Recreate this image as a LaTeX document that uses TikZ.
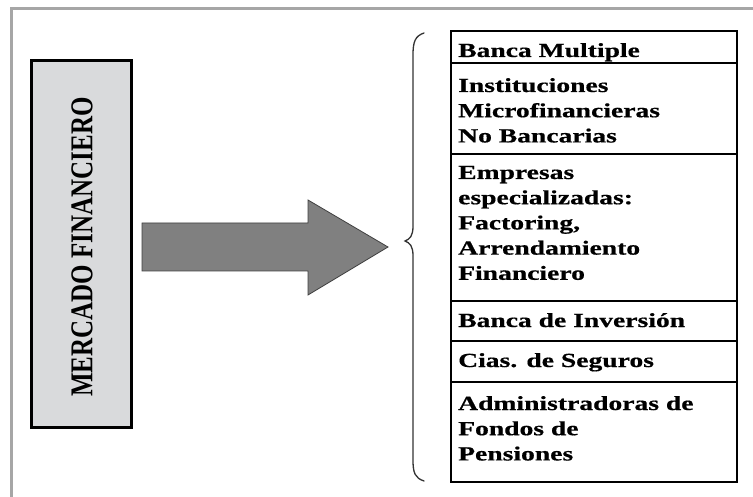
\documentclass[tikz,border=0pt]{standalone}
\usepackage{fontspec}
\setmainfont{Liberation Serif}
\newfontfamily\rowfont[FakeStretch=1.38,FakeBold=0.6]{Liberation Serif Bold}
\newcommand{\rowlines}[1]{\begin{tabular}[t]{@{}l@{}}#1\end{tabular}}
\begin{document}
\begin{tikzpicture}[x=1pt,y=-1pt,
  rowtext/.style={inner sep=0pt, anchor=base west,
    font=\rowfont\fontsize{20}{25.2}\selectfont},
  rowline/.style={line width=2.6pt, draw=black},
  arrowshape/.style={fill={rgb,255:red,128;green,128;blue,128}, draw=black!75, line width=0.8pt},
  bracestyle/.style={draw=black!80, line width=1.3pt, line cap=round}
]
\useasboundingbox (0,0) rectangle (753,497);
% frame
\draw[draw=black!35, line width=3pt] (11,497) -- (11,9) -- (753,9);
% left box
\node[draw=black, line width=3pt, fill={rgb,255:red,217;green,218;blue,220},
  minimum width=100pt, minimum height=366pt, inner sep=0pt] (mf) at (81,244) {};
\node[rotate=90, inner sep=0pt] (mftext) at (82,247)
  {\scalebox{1}[1.27]{\bfseries\fontsize{25}{25}\selectfont MERCADO FINANCIERO}};
% big arrow
\draw[arrowshape] (142,223) -- (308,223) -- (308,200) -- (388,247) -- (308,295) -- (308,271) -- (142,271) -- cycle;
% brace
\draw[bracestyle] (424,33) .. controls (415,36) and (413,42) .. (413,55)
  -- (413,226) .. controls (413,236) and (410,239) .. (405,241)
  .. controls (410,243) and (413,246) .. (413,256)
  -- (413,460) .. controls (413,473) and (415,478) .. (424,481);
% table rows
\draw[rowline] (451,31) rectangle (737,482);
\draw[rowline] (451,63) -- (737,63);
\draw[rowline] (451,154) -- (737,154);
\draw[rowline] (451,301) -- (737,301);
\draw[rowline] (451,341) -- (737,341);
\draw[rowline] (451,382) -- (737,382);
% texts
\node[rowtext] (t1) at (458,57) {Banca Multiple};
\node[rowtext] (t2) at (458,92) {\rowlines{Instituciones\\Microfinancieras\\No Bancarias}};
\node[rowtext] (t3) at (458,179) {\rowlines{Empresas\\especializadas:\\Factoring,\\Arrendamiento\\Financiero}};
\node[rowtext] (t4) at (458,327) {Banca de Inversión};
\node[rowtext] (t5) at (458,367) {Cias. de Seguros};
\node[rowtext] (t6) at (458,410) {\rowlines{Administradoras de\\Fondos de\\Pensiones}};
\end{tikzpicture}
\end{document}
